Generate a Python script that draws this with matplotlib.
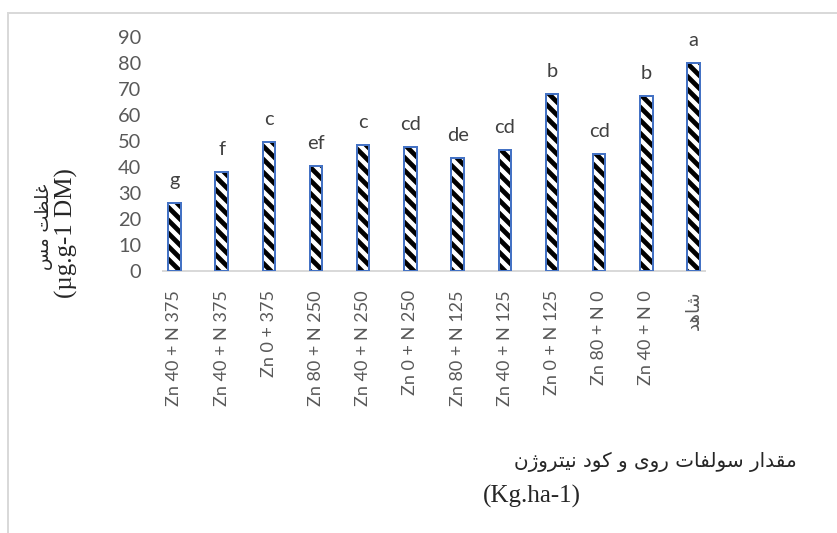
import matplotlib
matplotlib.use("Agg")
import matplotlib.pyplot as plt
from matplotlib.lines import Line2D

# ---- data ----
categories = [
    "Zn 40 + N 375", "Zn 40 + N 375", "Zn 0 + 375", "Zn 80 + N 250",
    "Zn 40 + N 250", "Zn 0 + N 250", "Zn 80 + N 125", "Zn 40 + N 125",
    "Zn 0 + N 125", "Zn 80 + N 0", "Zn 40 + N 0", "شاهد",
]
copper = [26.3, 38.2, 49.5, 40.5, 48.5, 47.6, 43.3, 46.5, 68.0, 45.1, 67.4, 80.0]
groups = ["g", "f", "c", "ef", "c", "cd", "de", "cd", "b", "cd", "b", "a"]
y_ticks = [0, 10, 20, 30, 40, 50, 60, 70, 80, 90]

y_title_fa = "غلظت مس"
y_title_unit = "(µg.g-1 DM)"
x_title_fa = "مقدار سولفات روی و کود نیتروژن"
x_title_unit = "(Kg.ha-1)"

# ---- simple Arabic-script shaping (presentation forms + visual order) ----
FORMS = {
    "ا": ("\uFE8D", "\uFE8E", None, None),
    "ت": ("\uFE95", "\uFE96", "\uFE97", "\uFE98"),
    "د": ("\uFEA9", "\uFEAA", None, None),
    "ر": ("\uFEAD", "\uFEAE", None, None),
    "س": ("\uFEB1", "\uFEB2", "\uFEB3", "\uFEB4"),
    "ش": ("\uFEB5", "\uFEB6", "\uFEB7", "\uFEB8"),
    "ظ": ("\uFEC5", "\uFEC6", "\uFEC7", "\uFEC8"),
    "غ": ("\uFECD", "\uFECE", "\uFECF", "\uFED0"),
    "ف": ("\uFED1", "\uFED2", "\uFED3", "\uFED4"),
    "ق": ("\uFED5", "\uFED6", "\uFED7", "\uFED8"),
    "ل": ("\uFEDD", "\uFEDE", "\uFEDF", "\uFEE0"),
    "م": ("\uFEE1", "\uFEE2", "\uFEE3", "\uFEE4"),
    "ن": ("\uFEE5", "\uFEE6", "\uFEE7", "\uFEE8"),
    "ه": ("\uFEE9", "\uFEEA", "\uFEEB", "\uFEEC"),
    "و": ("\uFEED", "\uFEEE", None, None),
    "ژ": ("\uFB8A", "\uFB8B", None, None),
    "ک": ("\uFB8E", "\uFB8F", "\uFB90", "\uFB91"),
    "ی": ("\uFBFC", "\uFBFD", "\uFBFE", "\uFBFF"),
}


def shape(text):
    if not any(ch in FORMS for ch in text):
        return text
    out = []
    for i, ch in enumerate(text):
        if ch not in FORMS:
            out.append(ch)
            continue
        prev = text[i - 1] if i > 0 else ""
        nxt = text[i + 1] if i + 1 < len(text) else ""
        iso, fin, ini, med = FORMS[ch]
        jp = prev in FORMS and FORMS[prev][2] is not None
        jn = ini is not None and nxt in FORMS
        if jp and jn:
            out.append(med)
        elif jp:
            out.append(fin)
        elif jn:
            out.append(ini)
        else:
            out.append(iso)
    return "".join(reversed(out))


# ---- figure geometry (pixel based) ----
W, H, DPI = 838, 533, 78
PT = 72.0 / DPI          # points per pixel


def fx(px):
    return px / W


def fy(py):
    return 1 - py / H


plt.rcParams["hatch.linewidth"] = 4.4
fig = plt.figure(figsize=(W / DPI, H / DPI), dpi=DPI)
fig.patch.set_facecolor("white")

ax_left, ax_right, ax_top, ax_bottom = 163, 705, 37, 271
ax = fig.add_axes([fx(ax_left), fy(ax_bottom), (ax_right - ax_left) / W,
                   (ax_bottom - ax_top) / H])

x = list(range(len(categories)))
bar_w = 0.265
ax.bar(x, copper, width=bar_w, color="white", edgecolor="black",
       hatch="\\\\", linewidth=0, zorder=2)
ax.bar(x, copper, width=bar_w, fill=False, edgecolor="#4472C4",
       linewidth=2.0 * PT, zorder=3)

for xi, v, g in zip(x, copper, groups):
    ax.annotate(g, (xi, v), xytext=(0, 17 * PT), textcoords="offset points",
                ha="center", va="baseline", fontsize=20 * PT,
                family="Lato", color="#404040")

ax.set_xlim(-0.24, 11.24)
ax.set_ylim(0, 90)
ax.set_yticks(y_ticks)
ax.set_yticklabels([str(t) for t in y_ticks], family="Lato",
                   fontsize=20 * PT, color="#595959")
ax.set_xticks(x)
ax.set_xticklabels([shape(c) for c in categories], rotation=90,
                   family=["Lato", "DejaVu Sans"], fontsize=18 * PT,
                   color="#595959", va="top", ha="center")
ax.tick_params(axis="y", length=0, pad=22 * PT)
ax.tick_params(axis="x", length=0, pad=19 * PT)

for s in ("top", "right", "left"):
    ax.spines[s].set_visible(False)
ax.spines["bottom"].set_color("#d9d9d9")
ax.spines["bottom"].set_linewidth(2 * PT)
ax.spines["bottom"].set_zorder(1)

# axis titles
fig.text(fx(44), fy(227), shape(y_title_fa), rotation=90, ha="center",
         va="center", family="DejaVu Sans", fontsize=18 * PT, color="#262626")
fig.text(fx(66), fy(233), y_title_unit, rotation=90, ha="center",
         va="center", family="Liberation Serif", fontsize=25 * PT,
         color="#262626")
fig.text(fx(655), fy(462), shape(x_title_fa), ha="center", va="center",
         family="DejaVu Sans", fontsize=20 * PT, color="#262626")
fig.text(fx(532), fy(496), x_title_unit, ha="center", va="center",
         family="Liberation Serif", fontsize=25 * PT, color="#262626")

# chart-area frame
fig.add_artist(Line2D([fx(8), fx(8)], [fy(13), fy(H + 5)],
                      color="#d9d9d9", linewidth=2 * PT))
fig.add_artist(Line2D([fx(8), fx(W + 5)], [fy(13), fy(13)],
                      color="#d9d9d9", linewidth=2 * PT))

fig.savefig("out.png", dpi=DPI, facecolor="white")
